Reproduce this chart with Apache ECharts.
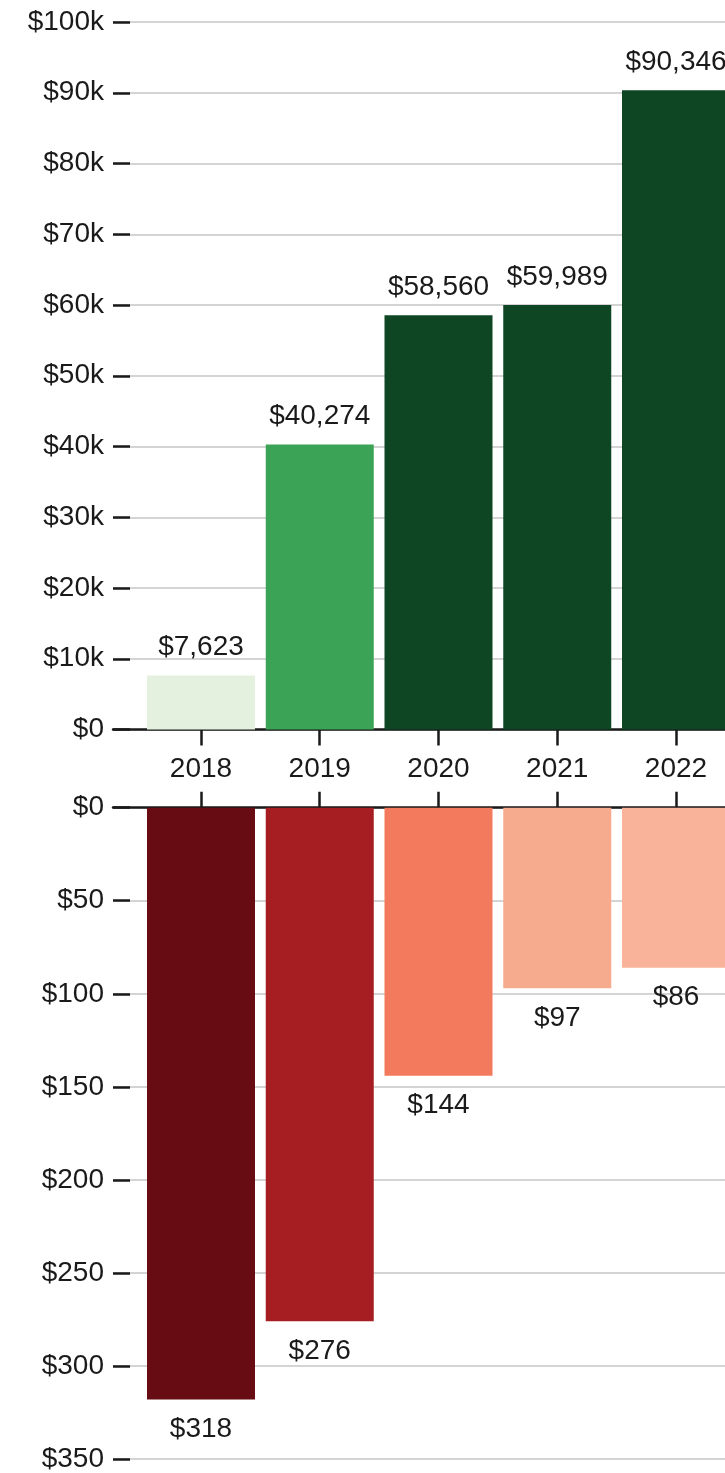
<!DOCTYPE html>
<html>
<head>
<meta charset="utf-8">
<script src="https://cdn.jsdelivr.net/npm/echarts@6/dist/echarts.min.js"></script>
<style>
    html, body { margin: 0; padding: 0; overflow: hidden; background: #fff; }
    #chart { width: 800px; height: 1473px; }
</style>
</head>
<body>
<div id="chart"></div>
<script>
const years = ['2018', '2019', '2020', '2021', '2022'];
const topValues = [7623, 40274, 58560, 59989, 90346];
const bottomValues = [318, 276, 144, 97, 86];
const topColors = ['#e4f1de', '#3ba356', '#0e4624', '#0e4624', '#0e4624'];
const bottomColors = ['#670c13', '#a61e22', '#f47a5d', '#f6ab8f', '#f8b39a'];
const topTicks = [0, 10000, 20000, 30000, 40000, 50000, 60000, 70000, 80000, 90000, 100000];
const bottomTicks = [0, 50, 100, 150, 200, 250, 300, 350];

const font = 'Liberation Sans, Arial, sans-serif';
const ink = '#1a1a1a';
const fs = 28;
const idx = years.map((y, i) => i);

let chart = echarts.init(document.getElementById('chart'));

function xAxis(gridIndex, position, showLabel) {
    return {
        type: 'value',
        gridIndex: gridIndex,
        position: position,
        min: -0.741,
        max: 4.741,
        axisLine: { show: true, onZero: false, lineStyle: { color: ink, width: 2.5 } },
        axisTick: { show: true, customValues: idx, length: 16, lineStyle: { color: ink, width: 2.5 } },
        axisLabel: {
            show: showLabel,
            customValues: idx,
            margin: 26,
            fontSize: fs,
            fontFamily: font,
            color: ink,
            formatter: v => years[v]
        },
        splitLine: { show: false }
    };
}

function yAxis(gridIndex, max, interval, inverse, fmt) {
    return {
        type: 'value',
        gridIndex: gridIndex,
        position: 'left',
        min: 0,
        max: max,
        interval: interval,
        inverse: inverse,
        axisLine: { show: false, onZero: false },
        axisTick: { show: true, inside: true, length: 17, lineStyle: { color: ink, width: 2.5 } },
        axisLabel: { margin: 9, fontSize: fs, fontFamily: font, color: ink, formatter: fmt },
        splitLine: { show: true, lineStyle: { color: '#d4d4d4', width: 2 } }
    };
}

let option = {
    animation: false,
    grid: [
        { left: 113, top: 22, width: 651, height: 707.5 },
        { left: 113, top: 807.7, width: 651, height: 652.6 }
    ],
    xAxis: [
        xAxis(0, 'bottom', true),
        xAxis(1, 'top', false)
    ],
    yAxis: [
        yAxis(0, topTicks[topTicks.length - 1], topTicks[1] - topTicks[0], false,
            v => v === 0 ? '$0' : '$' + (v / 1000) + 'k'),
        yAxis(1, bottomTicks[bottomTicks.length - 1], bottomTicks[1] - bottomTicks[0], true,
            v => '$' + v)
    ],
    series: [
        {
            type: 'bar',
            xAxisIndex: 0,
            yAxisIndex: 0,
            barWidth: 108,
            data: topValues.map((v, i) => ({ value: [i, v], itemStyle: { color: topColors[i] } })),
            label: {
                show: true,
                position: 'top',
                distance: 14,
                fontSize: fs,
                fontFamily: font,
                color: ink,
                formatter: p => '$' + p.value[1].toLocaleString('en-US')
            }
        },
        {
            type: 'bar',
            xAxisIndex: 1,
            yAxisIndex: 1,
            barWidth: 108,
            data: bottomValues.map((v, i) => ({ value: [i, v], itemStyle: { color: bottomColors[i] } })),
            label: {
                show: true,
                position: 'bottom',
                distance: 16,
                fontSize: fs,
                fontFamily: font,
                color: ink,
                formatter: p => '$' + p.value[1]
            }
        }
    ]
};

chart.setOption(option);
</script>
</body>
</html>
